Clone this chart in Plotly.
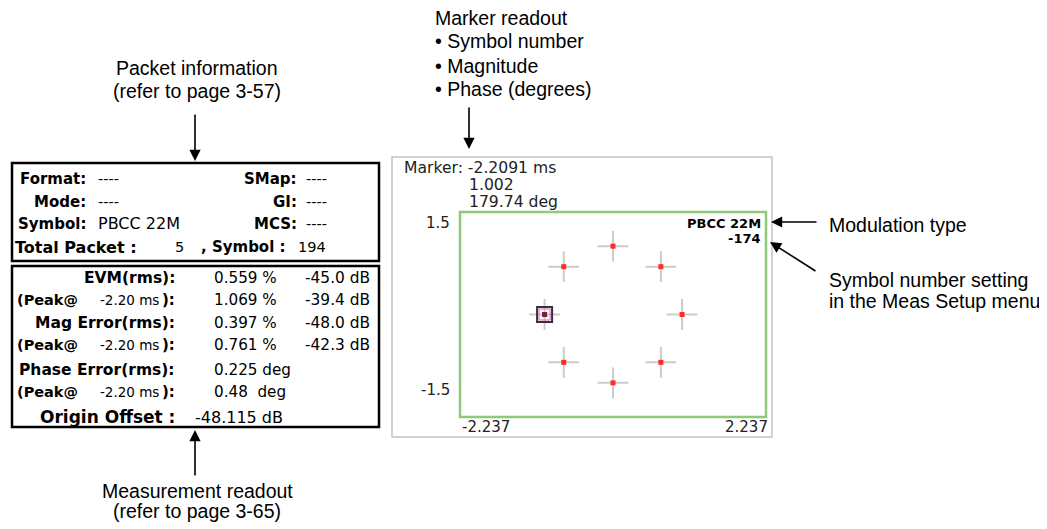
import plotly.graph_objects as go

# Browser body has an 8px margin; the figure is placed inside it.
OFF = 8
FW, FH = 1047 - OFF, 529 - OFF

# ---- Data ----
sym_i = [1.01, 0.70, 0.0, -0.72, -1.00, -0.72, 0.0, 0.70]
sym_q = [0.0, 0.70, 1.00, 0.70, 0.0, -0.70, -1.00, -0.70]
marker_index = 4
x_range = [-2.237, 2.237]
y_range = [-1.5, 1.5]
x_tick_labels = ["-2.237", "2.237"]
y_tick_labels = ["1.5", "-1.5"]
marker_readout = ["Marker: -2.2091 ms", "1.002", "179.74 deg"]
mod_type = "PBCC 22M"
symbol_setting = "-174"

packet_left = [("Format:", "----"), ("Mode:", "----"), ("Symbol:", "PBCC 22M")]
packet_right = [("SMap:", "----"), ("GI:", "----"), ("MCS:", "----")]
total_packet = "5"
total_symbol = "194"

meas_rows = [
    ("EVM(rms):", "0.559 %", "-45.0 dB"),
    ("peak", "1.069 %", "-39.4 dB"),
    ("Mag Error(rms):", "0.397 %", "-48.0 dB"),
    ("peak", "0.761 %", "-42.3 dB"),
    ("Phase Error(rms):", "0.225 deg", ""),
    ("peak", "0.48  deg", ""),
]
peak_time = "-2.20 ms"
origin_offset = "-48.115 dB"

# ---- helpers (reference pixel -> paper) ----
def px(x):
    return (x - OFF) / FW

def py(y):
    return 1 - (y - OFF) / FH

BOXFONT = "DejaVu Sans"
CALLFONT = "Liberation Sans"

fig = go.Figure()

# crosses
fig.add_trace(go.Scatter(x=sym_i, y=sym_q, mode="markers", hoverinfo="skip",
                         marker=dict(symbol="cross-thin", size=22, color="#cccccc",
                                     line=dict(width=2, color="#cccccc"))))
# red symbol points
fig.add_trace(go.Scatter(x=sym_i, y=sym_q, mode="markers", hoverinfo="skip",
                         marker=dict(symbol="square", size=5, color="#ff2a2a",
                                     line=dict(width=0))))
# marker box
mx, my = [sym_i[marker_index]], [sym_q[marker_index]]
fig.add_trace(go.Scatter(x=mx, y=my, mode="markers", hoverinfo="skip",
                         marker=dict(symbol="square-open", size=15, color="#3b2b3b",
                                     line=dict(width=2, color="#3b2b3b"))))
fig.add_trace(go.Scatter(x=mx, y=my, mode="markers", hoverinfo="skip",
                         marker=dict(symbol="square-open", size=11, color="#d36cc4",
                                     line=dict(width=1, color="#d36cc4"))))
fig.add_trace(go.Scatter(x=mx, y=my, mode="markers", hoverinfo="skip",
                         marker=dict(symbol="square", size=5, color="#7a1f3a",
                                     line=dict(width=0))))

plot_l, plot_r, plot_t, plot_b = 460, 766, 212, 417

fig.update_layout(
    width=FW, height=FH, margin=dict(l=0, r=0, t=0, b=0),
    paper_bgcolor="white", plot_bgcolor="rgba(0,0,0,0)", showlegend=False,
    xaxis=dict(domain=[px(plot_l), px(plot_r)], range=x_range, visible=False,
               fixedrange=True),
    yaxis=dict(domain=[py(plot_b), py(plot_t)], range=y_range, visible=False,
               fixedrange=True),
)

shapes = []
shapes.append(dict(type="rect", xref="paper", yref="paper",
                   x0=px(392), x1=px(772), y0=py(437), y1=py(157),
                   line=dict(color="#c4c4c4", width=1.5), layer="below"))
shapes.append(dict(type="rect", xref="x domain", yref="y domain",
                   x0=0, x1=1, y0=0, y1=1,
                   line=dict(color="#8fc979", width=2.5), layer="below"))
shapes.append(dict(type="rect", xref="paper", yref="paper",
                   x0=px(12), x1=px(379), y0=py(261), y1=py(163),
                   line=dict(color="black", width=2.5)))
shapes.append(dict(type="rect", xref="paper", yref="paper",
                   x0=px(12), x1=px(379), y0=py(427), y1=py(266),
                   line=dict(color="black", width=2.5)))
fig.update_layout(shapes=shapes)

ann = []

def text(x, y, s, size, anchor="left", bold=False, font=BOXFONT, color="black"):
    if bold:
        s = "<b>" + s + "</b>"
    ann.append(dict(x=px(x), y=py(y), xref="paper", yref="paper", text=s,
                    showarrow=False, xanchor=anchor, yanchor="middle",
                    font=dict(family=font, size=size, color=color)))

def arrow(tx, ty, hx, hy):
    ann.append(dict(x=px(hx), y=py(hy), xref="paper", yref="paper", text="",
                    showarrow=True, axref="pixel", ayref="pixel",
                    ax=tx - hx, ay=ty - hy, arrowhead=2, arrowsize=1.4,
                    arrowwidth=1.6, arrowcolor="black", standoff=0, startstandoff=0))

# ---- Packet info box ----
rows_y = [179, 202, 224]
for (lab, val), yy in zip(packet_left, rows_y):
    text(88, yy, lab, 15, "right", bold=True)
    text(96, yy, val, 16 if val != "----" else 14.5)
for (lab, val), yy in zip(packet_right, rows_y):
    text(299, yy, lab, 15, "right", bold=True)
    text(304, yy, val, 14.5)
text(13, 247, "Total Packet :", 16, "left", bold=True)
text(186, 247, total_packet, 14.5, "right")
text(199, 247, ", Symbol :", 15, "left", bold=True)
text(328, 247, total_symbol, 14.5, "right")

# ---- Measurement box ----
meas_y = [278, 300, 323, 345, 370, 392]
for (lab, v1, v2), yy in zip(meas_rows, meas_y):
    if lab == "peak":
        text(15, yy, "(Peak@", 14.5, "left", bold=True)
        text(98, yy, peak_time, 13.5, "left")
        text(177, yy, "):", 15, "right", bold=True)
    else:
        text(177, yy, lab, 15.5, "right", bold=True)
    text(212, yy, v1, 15.2, "left")
    if v2:
        text(372, yy, v2, 15.4, "right")
text(177, 417, "Origin Offset :", 17, "right", bold=True)
text(193, 417, origin_offset, 16, "left")

# ---- Constellation readouts ----
PC = "#222222"
text(402, 168, marker_readout[0], 15.6, "left", color=PC)
text(467, 185, marker_readout[1], 15.6, "left", color=PC)
text(467, 202, marker_readout[2], 15.6, "left", color=PC)
text(452, 223, y_tick_labels[0], 15, "right", color=PC)
text(452, 390, y_tick_labels[1], 15, "right", color=PC)
text(460, 427, x_tick_labels[0], 15, "left", color=PC)
text(770, 427, x_tick_labels[1], 15, "right", color=PC)
text(763, 223, mod_type, 13, "right", bold=True)
text(763, 238, symbol_setting, 13, "right", bold=True)

# ---- Callouts ----
CS = 19.5
text(197, 68, "Packet information", CS, "center", font=CALLFONT)
text(197, 91, "(refer to page 3-57)", CS, "center", font=CALLFONT)
text(433, 18, "Marker readout", CS, "left", font=CALLFONT)
text(433, 41, "• Symbol number", CS, "left", font=CALLFONT)
text(433, 66, "• Magnitude", CS, "left", font=CALLFONT)
text(433, 89, "• Phase (degrees)", CS, "left", font=CALLFONT)
text(827, 225, "Modulation type", CS, "left", font=CALLFONT)
text(827, 280, "Symbol number setting", CS, "left", font=CALLFONT)
text(827, 301, "in the Meas Setup menu", CS, "left", font=CALLFONT)
text(197, 491, "Measurement readout", CS, "center", font=CALLFONT)
text(197, 511, "(refer to page 3-65)", CS, "center", font=CALLFONT)

arrow(195, 113, 195, 161)
arrow(469, 106, 469, 149)
arrow(195, 477, 195, 430)
arrow(818, 222, 771, 222)
arrow(817, 272, 770, 242)

fig.update_layout(annotations=ann)
fig.write_html("out.html")
